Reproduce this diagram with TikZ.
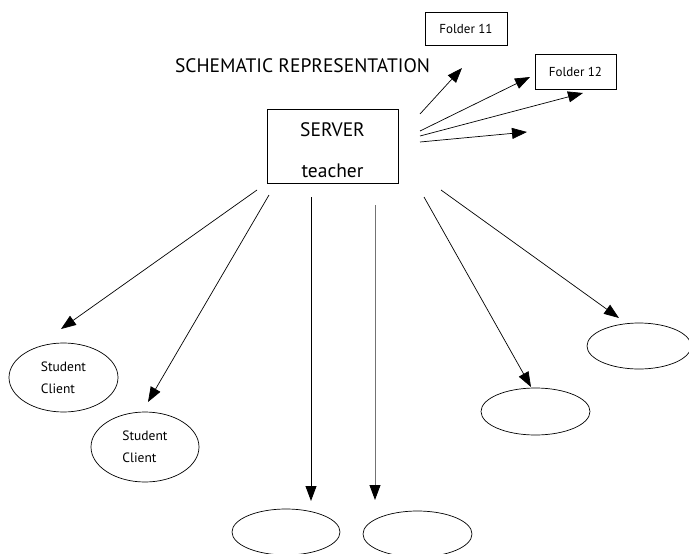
\documentclass[tikz,border=0pt]{standalone}
\usepackage{fontspec}
\setmainfont{PT Sans}
\usetikzlibrary{arrows.meta,shapes.geometric}
\begin{document}
\begin{tikzpicture}[x=1pt,y=-1pt,
  conn/.style={line width=0.7pt,-{Triangle[length=15pt,width=11pt]}},
  box/.style={draw,line width=0.9pt,inner sep=0pt},
  client/.style={draw,ellipse,line width=0.7pt,inner sep=0pt,minimum width=109pt,align=left,
    font=\fontsize{13.5}{22}\selectfont},
  small/.style={font=\fontsize{13}{15}\selectfont},
  big/.style={font=\fontsize{19.5}{22}\selectfont}]
\useasboundingbox (0,0) rectangle (689,554);
\fill[white] (0,0) rectangle (689,554);

% title
\node[big,inner sep=0pt] (title) at (302.5,66) {SCHEMATIC REPRESENTATION};

% server
\node[box,minimum width=131pt,minimum height=74pt] (server) at (332.5,146) {};
\node[big,inner sep=0pt] (srvA) at (332.5,130) {SERVER};
\node[big,inner sep=0pt] (srvB) at (332.5,171) {teacher};

% folders
\node[box,small,minimum width=82pt,minimum height=33pt] (f11) at (466,28.5) {Folder 11};
\node[box,small,minimum width=81pt,minimum height=35pt] (f12) at (575.5,71.5) {Folder 12};

% clients
\node[client,minimum height=69pt] (c1) at (63.5,377.5) {Student\\Client};
\node[client,minimum height=70pt,minimum width=108pt] (c2) at (145,447) {Student\\Client};
\node[client,minimum height=46pt,minimum width=104pt] (c3) at (639,346) {};
\node[client,minimum height=47pt] (c4) at (535.5,411.5) {};
\node[client,minimum height=46pt,minimum width=108pt] (c5) at (286,532) {};
\node[client,minimum height=46pt] (c6) at (417.5,534) {};

% connector end points
\coordinate (r1s) at (420,114); \coordinate (r1e) at (462,68);
\coordinate (r2s) at (420,131); \coordinate (r2e) at (530,77);
\coordinate (r3s) at (420,136); \coordinate (r3e) at (583,93);
\coordinate (r4s) at (420,142); \coordinate (r4e) at (527,132);
\coordinate (d1s) at (257,190); \coordinate (d1e) at (61,329);
\coordinate (d2s) at (269,195); \coordinate (d2e) at (148,402);
\coordinate (d3s) at (311,197); \coordinate (d3e) at (311,501);
\coordinate (d4s) at (375,205); \coordinate (d4e) at (375,500);
\coordinate (d5s) at (424,197); \coordinate (d5e) at (531,387);
\coordinate (d6s) at (441,190); \coordinate (d6e) at (619,318);

\draw[conn] (r1s) -- (r1e);
\draw[conn] (r2s) -- (r2e);
\draw[conn] (r3s) -- (r3e);
\draw[conn] (r4s) -- (r4e);
\draw[conn] (d1s) -- (d1e);
\draw[conn] (d2s) -- (d2e);
\draw[conn,line width=0.9pt] (d3s) -- (d3e);
\draw[line width=0.9pt,draw=black!55,-{Triangle[length=15pt,width=11pt,color=black]}] (d4s) -- (d4e);
\draw[conn] (d5s) -- (d5e);
\draw[conn] (d6s) -- (d6e);
\end{tikzpicture}
\end{document}
